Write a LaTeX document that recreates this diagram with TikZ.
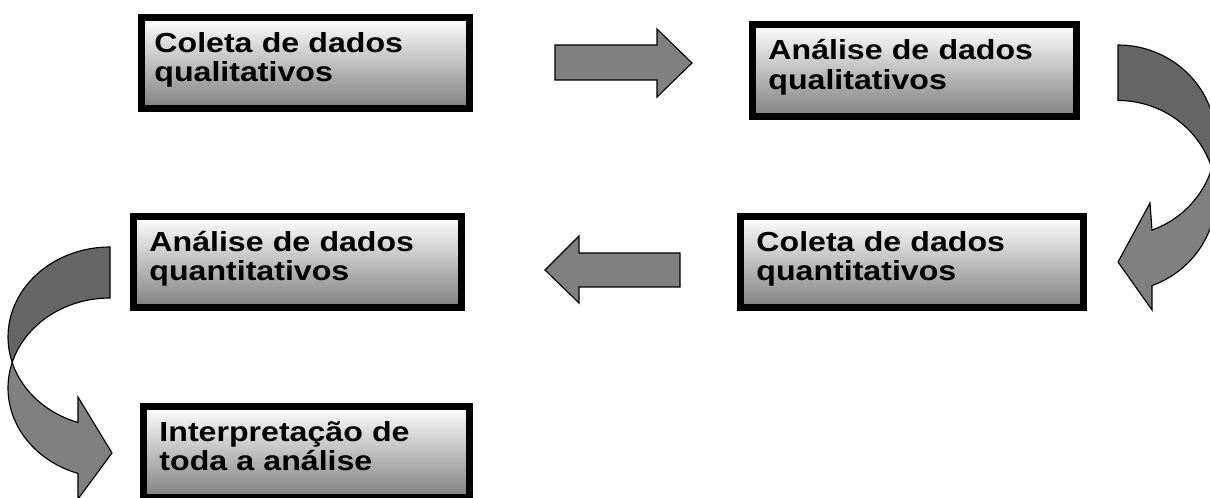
\documentclass[tikz,border=0pt]{standalone}
\usepackage{fontspec}
\setmainfont{Liberation Sans}[FakeStretch=1.165]
\usetikzlibrary{calc}
\tikzset{
  stage/.style={rectangle, draw=black, line width=0.175cm, top color=white, bottom color=black!50,
    minimum height=2.275cm, inner xsep=0.4cm, text depth=1.035cm, align=left,
    font=\fontsize{19.6}{21}\selectfont\bfseries},
  blockarrow/.style={draw=black, line width=0.8pt, fill=black!50},
  backband/.style={draw=black, line width=0.8pt, fill=black!60},
}

\begin{document}
\begin{tikzpicture}[x=0.025cm, y=-0.025cm]
			%%%%% START %%%%%
			
			\useasboundingbox (0,0) rectangle (1210,498);
			
			\node[stage, text width=7.55cm, inner xsep=0.325cm] (colqual) at (305.5,63) {Coleta de dados\\qualitativos};
			\node[stage, text width=7.3cm] (anqual) at (914.5,70.5) {Análise de dados\\qualitativos};
			\node[stage, text width=7.775cm] (colquant) at (912,262) {Coleta de dados\\quantitativos};
			\node[stage, text width=7.4cm] (anquant) at (297.5,262) {Análise de dados\\quantitativos};
			\node[stage, text width=7.35cm] (interp) at (306.5,452) {Interpretação de\\toda a análise};
			
			\draw[blockarrow] (555,45) -- (657,45) -- (657,29) -- (692,63) -- (657,97) -- (657,80) -- (555,80) -- cycle;
			\draw[blockarrow] (680,253) -- (579,253) -- (579,236) -- (545,270) -- (579,303) -- (579,287) -- (680,287) -- cycle;
			
			\draw[backband] plot[domain=-90:16.9, samples=40, variable=\t] ({1118+98*cos(\t)},{140.5+95.5*sin(\t)})
				-- plot[domain=-16.9:-90, samples=40, variable=\t] ({1118+98*cos(\t)},{196+95.5*sin(\t)}) -- cycle;
			\draw[blockarrow] plot[domain=-16.9:69.7, samples=40, variable=\t] ({1118+98*cos(\t)},{196+95.5*sin(\t)})
				-- (1152,310) -- (1118,262) -- (1150,203)
				-- plot[domain=69.7:16.9, samples=40, variable=\t] ({1118+98*cos(\t)},{140.5+95.5*sin(\t)}) -- cycle;
			
			\draw[backband] plot[domain=270:163.5, samples=40, variable=\t] ({110+102*cos(\t)},{337+90*sin(\t)})
				-- plot[domain=196.5:270, samples=40, variable=\t] ({110+102*cos(\t)},{388+90*sin(\t)}) -- cycle;
			\draw[blockarrow] plot[domain=196.5:108.3, samples=40, variable=\t] ({110+102*cos(\t)},{388+90*sin(\t)})
				-- (78,499) -- (112,453) -- (78,397)
				-- plot[domain=108.3:163.5, samples=40, variable=\t] ({110+102*cos(\t)},{337+90*sin(\t)}) -- cycle;
			
			%%%%% END %%%%%
\end{tikzpicture}
\end{document}
